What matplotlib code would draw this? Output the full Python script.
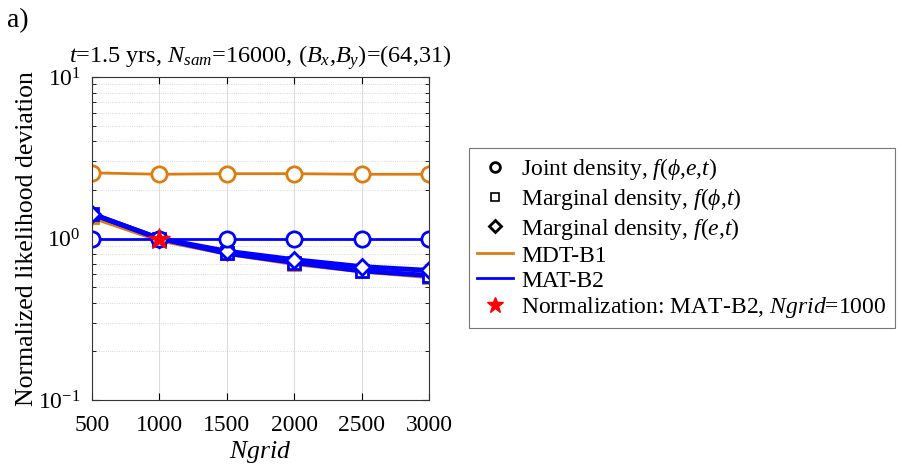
import numpy as np
import matplotlib
matplotlib.use("Agg")
import matplotlib.pyplot as plt
from matplotlib.lines import Line2D
from matplotlib.ticker import LogLocator, NullFormatter

plt.rcParams['font.family'] = 'Liberation Serif'
plt.rcParams['mathtext.fontset'] = 'custom'
plt.rcParams['mathtext.rm'] = 'Liberation Serif'
plt.rcParams['mathtext.it'] = 'Liberation Serif:italic'
plt.rcParams['mathtext.bf'] = 'Liberation Serif:bold'

# data
ngrid = [500, 1000, 1500, 2000, 2500, 3000]

mdt_joint = [2.55, 2.50, 2.52, 2.52, 2.50, 2.50]
mdt_phi = [1.36, 0.98, 0.81, 0.70, 0.63, 0.58]
mdt_e = [1.38, 0.99, 0.82, 0.72, 0.65, 0.61]

mat_joint = [1.00, 1.00, 1.00, 1.00, 1.00, 1.00]
mat_phi = [1.42, 1.00, 0.81, 0.71, 0.63, 0.59]
mat_e = [1.42, 1.00, 0.835, 0.74, 0.67, 0.635]

norm_x = [1000]
norm_y = [1.0]

orange = '#dc7d12'
blue = '#0000ff'

fig = plt.figure(figsize=(9.02, 4.66), dpi=100)
ax = fig.add_axes([0.102, 0.1416, 0.3736, 0.6931])

ms = 11
# MDT-B1
ax.plot(ngrid, mdt_phi, color=orange, lw=3.5, marker='s', ms=ms - 3, mfc='white', mew=2)
ax.plot(ngrid, mdt_e, color=orange, lw=3.5, marker='D', ms=ms - 3, mfc='white', mew=2)
ax.plot(ngrid, mdt_joint, color=orange, lw=2, marker='o', ms=ms, mfc='white', mew=2)
# MAT-B2
ax.plot(ngrid, mat_phi, color=blue, lw=3.5, marker='s', ms=ms - 3, mfc='white', mew=2)
ax.plot(ngrid, mat_e, color=blue, lw=3.5, marker='D', ms=ms - 3, mfc='white', mew=2)
ax.plot(ngrid, mat_joint, color=blue, lw=2, marker='o', ms=ms, mfc='white', mew=2)

ax.plot(norm_x, norm_y, ls='none', marker='*', ms=16, color='red', zorder=5)

ax.set_yscale('log')
ax.set_ylim(0.1, 10)
ax.set_xlim(500, 3000)
ax.set_xticks(ngrid)
ax.set_xticklabels([str(v) for v in ngrid])
ax.yaxis.set_minor_locator(LogLocator(base=10, subs=np.arange(2, 10)))
ax.yaxis.set_minor_formatter(NullFormatter())

ax.grid(True, which='major', color='#dddddd', lw=0.8)
ax.grid(True, which='minor', axis='y', color='#cccccc', lw=0.6, ls=':')
ax.set_axisbelow(True)

ax.tick_params(which='both', direction='in', top=True, right=True, labelsize=17)
ax.tick_params(which='major', length=5)
ax.tick_params(axis='x', which='major', pad=11)
ax.tick_params(axis='y', which='major', pad=8)
ax.tick_params(which='minor', length=3)
for s in ax.spines.values():
    s.set_color('#333333')
    s.set_linewidth(0.8)

ax.set_xlabel('$Ngrid$', fontsize=18.5, labelpad=2)
ax.set_ylabel('Normalized likelihood deviation', fontsize=18.5, labelpad=0)
ax.set_title('$t$=1.5 yrs, $N_{sam}$=16000, ($B_x$,$B_y$)=(64,31)', fontsize=17.5, pad=10)

fig.text(0.008, 0.955, 'a)', fontsize=20, va='center')

handles = [
    Line2D([], [], ls='none', marker='o', color='black', mfc='white', ms=7, mew=2),
    Line2D([], [], ls='none', marker='s', color='black', mfc='white', ms=6, mew=1.2),
    Line2D([], [], ls='none', marker='D', color='black', mfc='white', ms=6, mew=2),
    Line2D([], [], color=orange, lw=2),
    Line2D([], [], color=blue, lw=2),
    Line2D([], [], ls='none', marker='*', color='red', ms=12),
]
labels = [
    r'Joint density, $f$($\phi$,$e$,$t$)',
    r'Marginal density, $f$($\phi$,$t$)',
    r'Marginal density, $f$($e$,$t$)',
    'MDT-B1',
    'MAT-B2',
    'Normalization: MAT-B2, $Ngrid$=1000',
]
leg = fig.legend(handles, labels, loc='upper left', bbox_to_anchor=(0.52, 0.682),
                 fontsize=17, frameon=True, fancybox=False, edgecolor='#555555',
                 handlelength=1.5, handletextpad=0.35, labelspacing=0.15,
                 borderpad=0.35, borderaxespad=0)
leg.get_frame().set_linewidth(0.8)

fig.savefig('out.png', dpi=100)
